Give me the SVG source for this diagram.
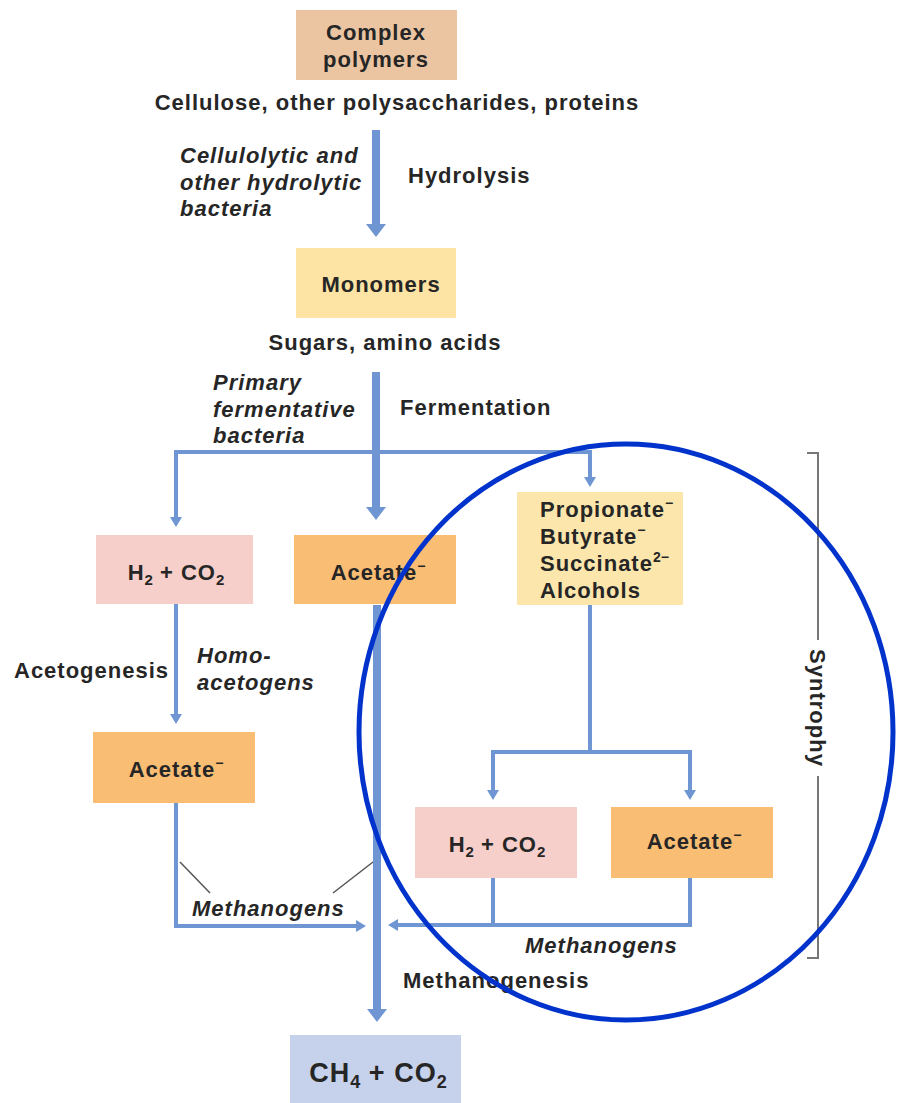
<svg xmlns="http://www.w3.org/2000/svg" width="903" height="1103" viewBox="0 0 903 1103">
<defs>
<style>
text{font-family:"Liberation Sans",Arial,sans-serif;font-weight:bold;fill:#262626;font-size:22px;letter-spacing:1px}
.it{font-style:italic}
.c{text-anchor:middle}
.sup{font-size:14px;letter-spacing:0}
.sub{font-size:15px;letter-spacing:0}
.thick{stroke:#6f96d2;stroke-width:8;fill:none}
.thin{stroke:#6f96d2;stroke-width:4;fill:none}
.lead{stroke:#555;stroke-width:1.5;fill:none}
</style>
<marker id="ah" viewBox="0 0 10 10" refX="0" refY="5" markerWidth="13" markerHeight="20" markerUnits="userSpaceOnUse" orient="auto" preserveAspectRatio="none"><path d="M0,0 L10,5 L0,10 Z" fill="#6f96d2"/></marker>
<marker id="ahs" viewBox="0 0 10 10" refX="0" refY="5" markerWidth="10" markerHeight="12" markerUnits="userSpaceOnUse" orient="auto" preserveAspectRatio="none"><path d="M0,0 L10,5 L0,10 Z" fill="#6f96d2"/></marker>
</defs>
<rect width="903" height="1103" fill="#ffffff"/>

<g id="connectors">
<line class="thick" x1="376" y1="130" x2="376" y2="224" marker-end="url(#ah)"/>
<line class="thick" x1="376" y1="372" x2="376" y2="507" marker-end="url(#ah)"/>
<polyline class="thin" points="176,517 176,452 590,452 590,477" marker-end="url(#ahs)"/>
<polyline class="thin" points="176,452 176,517" marker-end="url(#ahs)"/>
<line class="thin" x1="176" y1="604" x2="176" y2="714" marker-end="url(#ahs)"/>
<line class="thick" x1="377" y1="605" x2="377" y2="1009" marker-end="url(#ah)"/>
<line class="thin" x1="590" y1="605" x2="590" y2="752"/>
<polyline class="thin" points="493,790 493,752 690,752 690,790" marker-end="url(#ahs)"/>
<polyline class="thin" points="493,752 493,790" marker-end="url(#ahs)"/>
<polyline class="thin" points="176,803 176,926 356,926" marker-end="url(#ahs)"/>
<polyline class="thin" points="690,878 690,925 398,925" marker-end="url(#ahs)"/>
<line class="thin" x1="493" y1="878" x2="493" y2="925"/>
<line class="lead" x1="180" y1="862" x2="210" y2="893"/>
<line class="lead" x1="373" y1="862" x2="333" y2="893"/>
</g>

<g id="complex-polymers">
<rect x="296" y="10" width="161" height="70" fill="#ebc5a2"/>
<text class="c" x="376" y="40">Complex</text>
<text class="c" x="376" y="67">polymers</text>
</g>
<text class="c" x="397" y="110">Cellulose, other polysaccharides, proteins</text>
<text class="it" x="180" y="163">Cellulolytic and</text>
<text class="it" x="180" y="190">other hydrolytic</text>
<text class="it" x="180" y="216">bacteria</text>
<text x="408" y="183">Hydrolysis</text>

<g id="monomers">
<rect x="296" y="248" width="160" height="70" fill="#fde4a4"/>
<text class="c" x="381" y="292">Monomers</text>
</g>
<text class="c" x="385" y="350">Sugars, amino acids</text>
<text class="it" x="213" y="390">Primary</text>
<text class="it" x="213" y="417">fermentative</text>
<text class="it" x="213" y="443">bacteria</text>
<text x="400" y="415">Fermentation</text>

<g id="h2co2-left">
<rect x="96" y="535" width="157" height="69" fill="#f6cfcb"/>
<text class="c" x="176" y="580">H<tspan class="sub" dy="5">2</tspan><tspan dy="-5"> + CO</tspan><tspan class="sub" dy="5">2</tspan></text>
</g>
<g id="acetate-mid">
<rect x="294" y="535" width="162" height="69" fill="#f9bd74"/>
<text class="c" x="378" y="580">Acetate<tspan class="sup" dy="-9">−</tspan></text>
</g>
<g id="propionate">
<rect x="517" y="492" width="166" height="113" fill="#fce6ac"/>
<text x="540" y="517">Propionate<tspan class="sup" dy="-9">−</tspan></text>
<text x="540" y="544">Butyrate<tspan class="sup" dy="-9">−</tspan></text>
<text x="540" y="571">Succinate<tspan class="sup" dy="-9">2−</tspan></text>
<text x="540" y="598">Alcohols</text>
</g>

<text x="14" y="678">Acetogenesis</text>
<text class="it" x="197" y="663">Homo-</text>
<text class="it" x="197" y="690">acetogens</text>

<g id="acetate-left">
<rect x="93" y="732" width="162" height="71" fill="#f9bd74"/>
<text class="c" x="176" y="777">Acetate<tspan class="sup" dy="-9">−</tspan></text>
</g>
<g id="h2co2-right">
<rect x="415" y="807" width="162" height="71" fill="#f6cfcb"/>
<text class="c" x="497" y="852">H<tspan class="sub" dy="5">2</tspan><tspan dy="-5"> + CO</tspan><tspan class="sub" dy="5">2</tspan></text>
</g>
<g id="acetate-right">
<rect x="611" y="807" width="162" height="71" fill="#f9bd74"/>
<text class="c" x="694" y="849">Acetate<tspan class="sup" dy="-9">−</tspan></text>
</g>

<text class="it" x="192" y="916">Methanogens</text>
<text class="it" x="525" y="953">Methanogens</text>
<text x="403" y="988">Methanogenesis</text>

<g id="ch4co2">
<rect x="290" y="1035" width="171" height="68" fill="#c6d1ec"/>
<text class="c" x="378" y="1082" style="font-size:27px">CH<tspan style="font-size:18px;letter-spacing:0" dy="6">4</tspan><tspan dy="-6"> + CO</tspan><tspan style="font-size:18px;letter-spacing:0" dy="6">2</tspan></text>
</g>

<g id="syntrophy">
<polyline points="807,453 818,453 818,640" fill="none" stroke="#777" stroke-width="2"/>
<polyline points="818,776 818,958 807,958" fill="none" stroke="#777" stroke-width="2"/>
<text class="c" transform="translate(810,708) rotate(90)" style="font-size:22px">Syntrophy</text>
</g>

<ellipse cx="626" cy="732" rx="267" ry="288" fill="none" stroke="#0033cc" stroke-width="5"/>
</svg>
